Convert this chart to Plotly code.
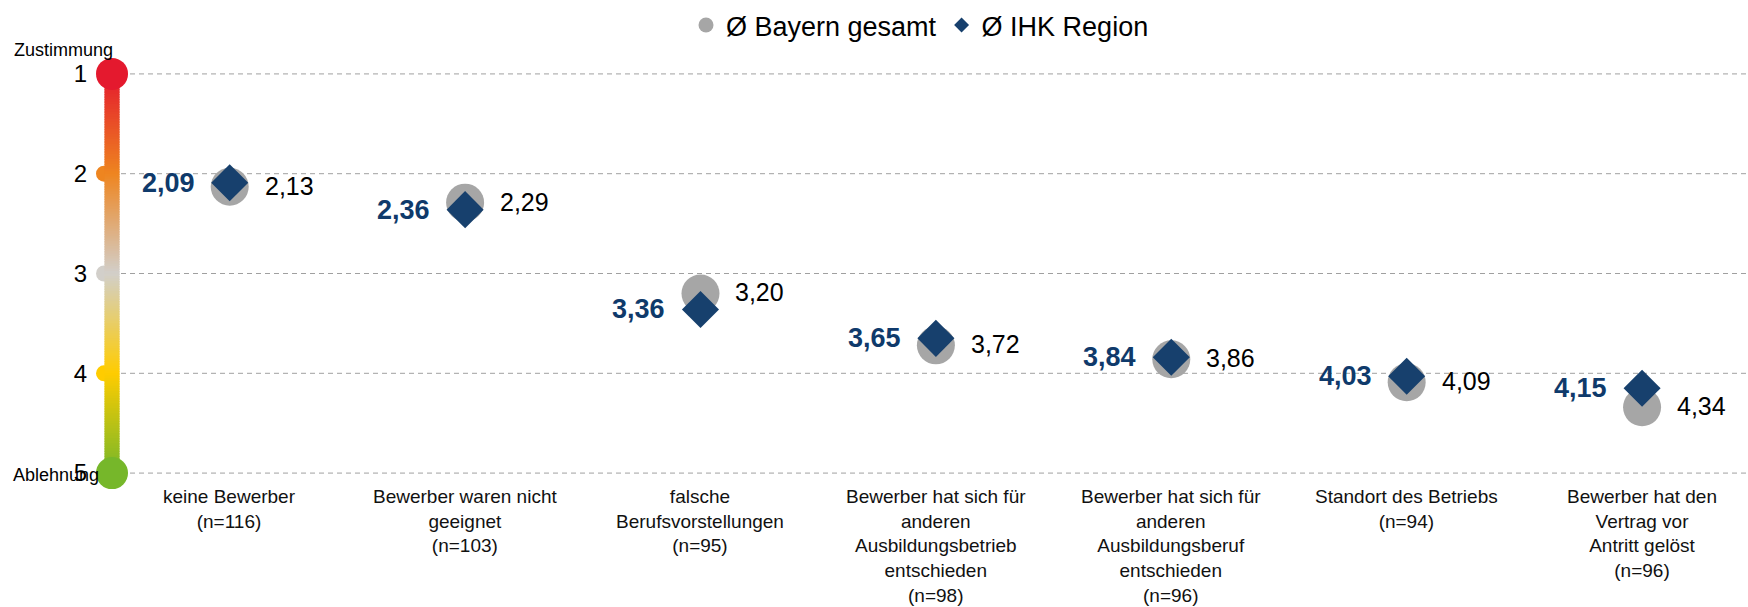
import plotly.graph_objects as go

# ---------------- data ----------------
categories = [
    "keine Bewerber<br>(n=116)",
    "Bewerber waren nicht<br>geeignet<br>(n=103)",
    "falsche<br>Berufsvorstellungen<br>(n=95)",
    "Bewerber hat sich für<br>anderen<br>Ausbildungsbetrieb<br>entschieden<br>(n=98)",
    "Bewerber hat sich für<br>anderen<br>Ausbildungsberuf<br>entschieden<br>(n=96)",
    "Standort des Betriebs<br>(n=94)",
    "Bewerber hat den<br>Vertrag vor<br>Antritt gelöst<br>(n=96)",
]
bayern = [2.13, 2.29, 3.20, 3.72, 3.86, 4.09, 4.34]
ihk = [2.09, 2.36, 3.36, 3.65, 3.84, 4.03, 4.15]
scale_ticks = [1, 2, 3, 4, 5]
scale_top_label = "Zustimmung"
scale_bottom_label = "Ablehnung"
series_names = ["Ø Bayern gesamt", "Ø IHK Region"]

# ---------------- styles ----------------
FONT = "Liberation Sans, Arial, sans-serif"
GREY = "#A6A6A6"
NAVY = "#17406D"
NAVY_TXT = "#0F3A6B"
scale_colors = {1: "#E4192E", 2: "#EE8520", 3: "#D2CFCA", 4: "#FFCC00", 5: "#76B72A"}
BAR_X = -0.5
MT, MB, ML = 29, 89, 92
PLOT_H = 607 - MT - MB


def hex2rgb(h):
    h = h.lstrip("#")
    return tuple(int(h[i:i + 2], 16) for i in (0, 2, 4))


def color_at(v):
    lo = int(min(max(v, 1), 4.999))
    hi = lo + 1
    t = v - lo
    a, b = hex2rgb(scale_colors[lo]), hex2rgb(scale_colors[hi])
    c = [round(a[k] + (b[k] - a[k]) * t) for k in range(3)]
    return "rgb(%d,%d,%d)" % tuple(c)


def fmt(v):
    return ("%.2f" % v).replace(".", ",")


xs = list(range(len(categories)))

fig = go.Figure()

fig.add_trace(go.Scatter(
    x=xs, y=bayern, mode="markers", name=series_names[0], showlegend=False,
    marker=dict(symbol="circle", size=38, color=GREY), cliponaxis=False,
    hoverinfo="skip",
))
fig.add_trace(go.Scatter(
    x=xs, y=ihk, mode="markers", name=series_names[1], showlegend=False,
    marker=dict(symbol="diamond", size=28.5, color=NAVY), cliponaxis=False,
    hoverinfo="skip",
))
# legend entries (small markers as in reference)
fig.add_trace(go.Scatter(
    x=[None], y=[None], mode="markers", name=series_names[0],
    marker=dict(symbol="circle", size=15, color=GREY),
))
fig.add_trace(go.Scatter(
    x=[None], y=[None], mode="markers", name=series_names[1],
    marker=dict(symbol="diamond", size=11.5, color=NAVY),
))

shapes = []
# dashed gridlines
for t in scale_ticks:
    shapes.append(dict(type="line", xref="x", yref="y", x0=BAR_X, x1=6.45, y0=t, y1=t,
                       line=dict(color="#A0A0A0", width=1, dash="5px,4px"), layer="below"))
# small circles at 2,3,4 (behind the bar)
for t in scale_ticks[1:-1]:
    shapes.append(dict(type="circle", xref="x", yref="y", xsizemode="pixel", ysizemode="pixel",
                       xanchor=BAR_X, yanchor=t, x0=-16, x1=0, y0=-8, y1=8,
                       fillcolor=scale_colors[t], line=dict(width=0), layer="below"))
# gradient bar
N = 160
lo, hi = scale_ticks[0], scale_ticks[-1]
step = (hi - lo) / N
for i in range(N):
    y0 = lo + i * step
    shapes.append(dict(type="rect", xref="x", yref="y", xsizemode="pixel",
                       xanchor=BAR_X, x0=-7.5, x1=7.5, y0=y0, y1=y0 + step * 1.6,
                       fillcolor=color_at(y0 + step / 2), line=dict(width=0), layer="below"))
# big end circles
for t in (scale_ticks[0], scale_ticks[-1]):
    shapes.append(dict(type="circle", xref="x", yref="y", xsizemode="pixel", ysizemode="pixel",
                       xanchor=BAR_X, yanchor=t, x0=-16, x1=16, y0=-16, y1=16,
                       fillcolor=scale_colors[t], line=dict(width=0), layer="below"))

annotations = []
for i, (b, r) in enumerate(zip(bayern, ihk)):
    annotations.append(dict(x=i, y=b, xref="x", yref="y", text=fmt(b), showarrow=False,
                            xanchor="left", yanchor="middle", xshift=33, yshift=1,
                            font=dict(family=FONT, size=25, color="#000000")))
    annotations.append(dict(x=i, y=r, xref="x", yref="y", text="<b>" + fmt(r) + "</b>", showarrow=False,
                            xanchor="right", yanchor="middle", xshift=-33,
                            font=dict(family=FONT, size=27, color=NAVY_TXT)))
for i, c in enumerate(categories):
    annotations.append(dict(x=i, y=5, xref="x", yref="y", text=c, showarrow=False,
                            xanchor="center", yanchor="top", yshift=-11,
                            font=dict(family=FONT, size=19, color="#111111")))
annotations.append(dict(x=0, y=1, xref="paper", yref="y", text=scale_top_label, showarrow=False,
                        xanchor="right", yanchor="middle", xshift=23, yshift=24,
                        font=dict(family=FONT, size=18, color="#000000")))
annotations.append(dict(x=0, y=5, xref="paper", yref="y", text=scale_bottom_label, showarrow=False,
                        xanchor="right", yanchor="middle", xshift=9, yshift=-2,
                        font=dict(family=FONT, size=18, color="#000000")))

fig.update_layout(
    width=1748, height=607,
    margin=dict(l=ML, r=0, t=MT, b=MB, autoexpand=False),
    paper_bgcolor="white", plot_bgcolor="white",
    font=dict(family=FONT, color="#000000"),
    showlegend=True,
    legend=dict(orientation="h", x=0.5, xanchor="center", yref="paper",
                y=1 + (MT - 1) / PLOT_H, yanchor="top",
                font=dict(family=FONT, size=27, color="#000000"), itemsizing="trace",
                bgcolor="rgba(0,0,0,0)"),
    xaxis=dict(range=[-0.585, 6.45], showgrid=False, zeroline=False, showticklabels=False,
               showline=False, fixedrange=True),
    yaxis=dict(range=[5.45, 0.55], tickvals=scale_ticks, ticktext=[str(t) for t in scale_ticks],
               showgrid=False, zeroline=False, showline=False, ticks="", ticklabelstandoff=4,
               tickfont=dict(family=FONT, size=24, color="#000000"), fixedrange=True),
    shapes=shapes,
    annotations=annotations,
)

fig.write_html("out.html", config={"displayModeBar": False},
               post_script="document.body.style.margin='0';")
